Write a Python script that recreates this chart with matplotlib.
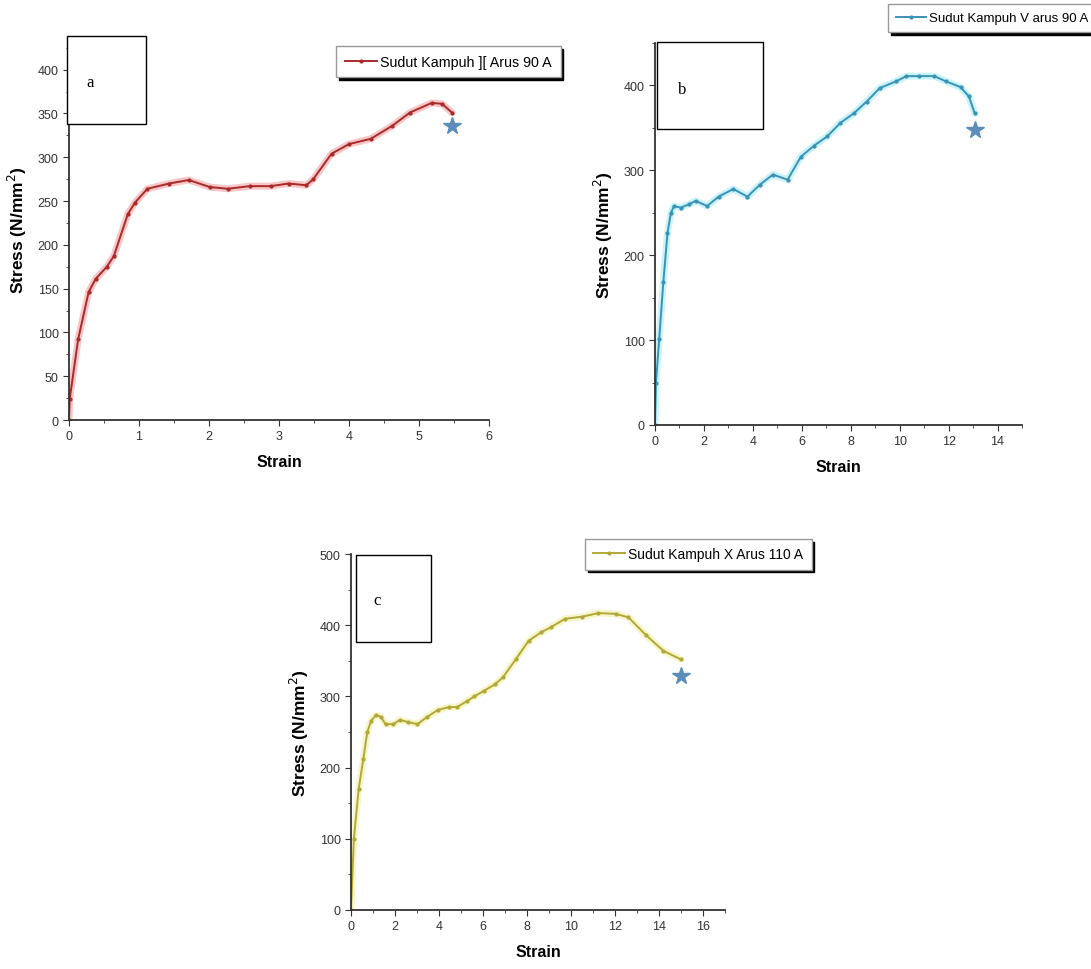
import numpy as np
import matplotlib.pyplot as plt
from matplotlib.patches import Rectangle
from matplotlib.ticker import MultipleLocator

plt.rcParams['font.family'] = ['Liberation Sans', 'DejaVu Sans']

# panel a: Sudut Kampuh ][ Arus 90 A
strain_a = [0, 0.01, 0.13, 0.28, 0.38, 0.54, 0.64, 0.84, 0.94, 1.12, 1.43, 1.71, 2.01, 2.27,
            2.58, 2.88, 3.14, 3.39, 3.49, 3.75, 4.0, 4.31, 4.62, 4.87, 5.18, 5.33, 5.47]
stress_a = [0, 24, 92, 146, 161, 175, 187, 235, 248, 264, 270, 274, 266, 264,
            267, 267, 270, 268, 275, 304, 315, 321, 336, 351, 362, 361, 351]
break_a = (5.47, 336)

# panel b: Sudut Kampuh V arus 90 A
strain_b = [0, 0.04, 0.17, 0.34, 0.51, 0.65, 0.78, 1.05, 1.39, 1.66, 2.13, 2.6, 3.2, 3.78,
            4.28, 4.82, 5.42, 5.96, 6.5, 7.04, 7.58, 8.12, 8.65, 9.19, 9.87, 10.27, 10.81,
            11.41, 11.88, 12.49, 12.83, 13.07]
stress_b = [0, 50, 101, 168, 226, 250, 258, 256, 260, 264, 258, 269, 278, 269,
            283, 295, 289, 316, 329, 340, 356, 367, 381, 397, 405, 411, 411,
            411, 405, 398, 387, 367]
break_b = (13.07, 347)

# panel c: Sudut Kampuh X Arus 110 A
strain_c = [0, 0.13, 0.35, 0.56, 0.74, 0.92, 1.14, 1.36, 1.57, 1.93, 2.22, 2.58, 3.02, 3.45,
            3.95, 4.46, 4.82, 5.25, 5.61, 6.05, 6.55, 6.91, 7.49, 8.07, 8.64, 9.08, 9.73,
            10.52, 11.24, 12.03, 12.61, 13.41, 14.2, 14.99]
stress_c = [0, 100, 170, 212, 250, 266, 274, 271, 261, 261, 267, 264, 261, 271,
            281, 285, 285, 293, 300, 308, 317, 327, 352, 378, 390, 397, 409,
            412, 417, 416, 411, 386, 364, 352]
break_c = (15.02, 329)

W, H = 1091, 970
fig = plt.figure(figsize=(W / 100, H / 100), dpi=100)


def px_axes(left, right, bottom, top):
    return fig.add_axes([left / W, 1 - bottom / H, (right - left) / W, (bottom - top) / H])


def panel(ax, x, y, star, color, halo, label, xlim, xmaj, ylim, ymaj, leg_xy, leg_fs):
    ax.plot(x, y, color=halo, lw=5, alpha=0.6, solid_capstyle='round')
    ax.plot(x, y, color=color, lw=1.4, marker='o', ms=2, label=label)
    ax.plot(*star, marker='*', ms=13, color='#5b8db8', ls='none')
    ax.set_xlim(*xlim)
    ax.set_ylim(*ylim)
    ax.xaxis.set_major_locator(MultipleLocator(xmaj))
    ax.xaxis.set_minor_locator(MultipleLocator(xmaj / 2))
    ax.yaxis.set_major_locator(MultipleLocator(ymaj))
    ax.yaxis.set_minor_locator(MultipleLocator(ymaj / 2))
    for s in ['top', 'right']:
        ax.spines[s].set_visible(False)
    for s in ['left', 'bottom']:
        ax.spines[s].set_linewidth(1.3)
        ax.spines[s].set_color('#333333')
    ax.tick_params(which='both', direction='out', colors='#333333', labelsize=9)
    ax.tick_params(which='major', length=4)
    ax.tick_params(which='minor', length=2.5)
    ax.set_xlabel('Strain', fontsize=11.5, fontweight='bold', labelpad=8)
    ax.set_ylabel('Stress (N/mm$^2$)', fontsize=12.5, fontweight='bold', labelpad=6)
    ax.legend(loc='upper left', bbox_to_anchor=(leg_xy[0] / W, 1 - leg_xy[1] / H),
              bbox_transform=fig.transFigure, fontsize=leg_fs, frameon=True, fancybox=False,
              shadow={'color': 'black', 'alpha': 1}, edgecolor='#999999',
              handlelength=2.3, handletextpad=0.2, borderpad=0.6, borderaxespad=0,
              framealpha=1)


ax_a = px_axes(69, 489, 421, 40)
panel(ax_a, strain_a, stress_a, break_a, '#a82a2a', '#f4a0a0', 'Sudut Kampuh ][ Arus 90 A',
      (0, 6), 1, (0, 435), 50, (336, 47), 10.3)

ax_b = px_axes(655, 1022, 426, 44)
panel(ax_b, strain_b, stress_b, break_b, '#3a93b5', '#a8ecf8', 'Sudut Kampuh V arus 90 A',
      (0, 15), 2, (0, 450), 100, (888, 5), 9.5)

ax_c = px_axes(351, 725, 911, 555)
panel(ax_c, strain_c, stress_c, break_c, '#b0a838', '#f2f0a8', 'Sudut Kampuh X Arus 110 A',
      (0, 17), 2, (0, 500), 100, (585, 540), 10)

# panel letter boxes
boxes = [('a', 67, 37, 146, 125, 90, 83), ('b', 657, 43, 763, 130, 682, 90),
         ('c', 356, 556, 431, 643, 377, 601)]
for letter, x0, y0, x1, y1, tx, ty in boxes:
    fig.add_artist(Rectangle((x0 / W, 1 - y1 / H), (x1 - x0) / W, (y1 - y0) / H,
                             transform=fig.transFigure, facecolor='white',
                             edgecolor='black', lw=1, zorder=5))
    fig.text(tx / W, 1 - ty / H, letter, family=['Liberation Serif'], fontsize=12,
             ha='center', va='center', zorder=6)

fig.savefig('out.png', dpi=100)
